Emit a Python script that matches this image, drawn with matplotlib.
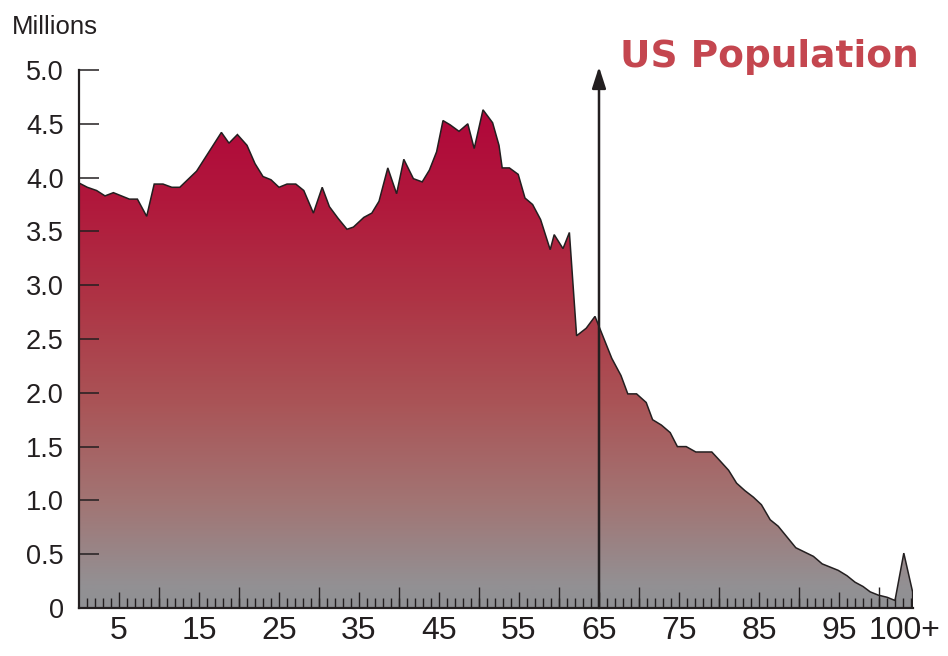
#!/usr/bin/env python3
"""US population by single year of age, gradient area chart."""

import matplotlib
matplotlib.use("Agg")

import matplotlib.pyplot as plt
import numpy as np
from matplotlib.colors import LinearSegmentedColormap, Normalize
from matplotlib.patches import FancyArrowPatch

# ages (points drift slightly from the ruler)
ages = [0, 1.04, 2.2, 3.25, 4.3, 5.3, 6.3, 7.3, 8.46, 9.4,
        10.5, 11.6, 12.6, 14.7, 17.8, 18.75, 19.8, 21.0, 22.0, 23.0,
        24.0, 25.0, 26.0, 27.1, 28.1, 29.3, 30.4, 31.3, 32.4, 33.5,
        34.3, 35.6, 36.6, 37.5, 38.6, 39.7, 40.6, 41.8, 42.9, 43.8,
        44.7, 45.5, 46.4, 47.5, 48.6, 49.4, 50.5, 51.7, 52.5, 52.9,
        53.8, 54.9, 55.75, 56.7, 57.7, 58.9, 59.4, 60.5, 61.3, 62.2,
        63.4, 64.5, 66.6, 67.75, 68.6, 69.7, 70.9, 71.7, 72.8, 73.9,
        74.8, 75.9, 77.1, 79.1, 80.1, 81.2, 82.2, 83.25, 84.3, 85.3,
        86.4, 87.4, 88.5, 89.6, 90.7, 91.8, 92.9, 93.9, 94.9, 96.0,
        97.0, 98.0, 98.9, 99.9, 101.0, 102.0, 103.1, 104.2]

population = [3.95, 3.91, 3.88, 3.83, 3.86, 3.83, 3.80, 3.80, 3.64, 3.94,
              3.94, 3.91, 3.91, 4.06, 4.42, 4.32, 4.40, 4.30, 4.13, 4.01,
              3.98, 3.91, 3.94, 3.94, 3.88, 3.67, 3.91, 3.73, 3.62, 3.52,
              3.54, 3.63, 3.67, 3.78, 4.09, 3.85, 4.17, 3.99, 3.96, 4.07,
              4.24, 4.53, 4.49, 4.43, 4.50, 4.27, 4.63, 4.51, 4.30, 4.09,
              4.09, 4.03, 3.81, 3.75, 3.61, 3.33, 3.47, 3.34, 3.49, 2.53,
              2.60, 2.71, 2.32, 2.16, 1.99, 1.99, 1.91, 1.75, 1.70, 1.63,
              1.50, 1.50, 1.45, 1.45, 1.37, 1.28, 1.16, 1.09, 1.03, 0.96,
              0.82, 0.76, 0.66, 0.56, 0.52, 0.48, 0.41, 0.38, 0.35, 0.30,
              0.24, 0.20, 0.15, 0.12, 0.10, 0.07, 0.51, 0.15]

y_ticks = [0, 0.5, 1.0, 1.5, 2.0, 2.5, 3.0, 3.5, 4.0, 4.5, 5.0]
y_labels = ["0", "0.5", "1.0", "1.5", "2.0", "2.5", "3.0", "3.5", "4.0", "4.5", "5.0"]
x_label_pos = [5, 15, 25, 35, 45, 55, 65, 75, 85, 95, 103.25]
x_labels = ["5", "15", "25", "35", "45", "55", "65", "75", "85", "95", "100+"]
retire_age = 65

INK = "#231f20"
TITLE_RED = "#c4464f"
FONT = "Liberation Sans"


def gradient_cmap():
    stops = [(0.0, "#8f9094"), (0.21, "#939093"), (1.0, "#a27473"),
             (1.93, "#aa5356"), (2.86, "#ae3445"), (3.79, "#b1183c"),
             (4.53, "#b0093a"), (5.0, "#b0093a")]
    return LinearSegmentedColormap.from_list(
        "pop", [(v / 5.0, c) for v, c in stops])


def main() -> int:
    fig = plt.figure(figsize=(9.48, 6.56), dpi=100)
    ax = fig.add_axes([79 / 948, 48 / 656, 834 / 948, 538 / 656])
    xmax = 104.25

    # gradient area clipped to the population outline
    poly = ax.fill_between(ages, population, 0, facecolor="none",
                           edgecolor="none", zorder=1)
    grad = np.linspace(0, 5, 600).reshape(-1, 1)
    img = ax.imshow(grad, extent=[0, xmax, 0, 5], origin="lower",
                    aspect="auto", cmap=gradient_cmap(),
                    norm=Normalize(0, 5), zorder=1, interpolation="bilinear")
    img.set_clip_path(poly.get_paths()[0], transform=ax.transData)

    ax.plot(ages + [ages[-1]], population + [0], color=INK, lw=1.1,
            zorder=3, solid_joinstyle="miter")

    ax.set_xlim(0, xmax)
    ax.set_ylim(0, 5)
    for side in ("top", "right"):
        ax.spines[side].set_visible(False)
    for side in ("left", "bottom"):
        ax.spines[side].set_color(INK)
        ax.spines[side].set_linewidth(1.6)
        ax.spines[side].set_zorder(4)

    ax.set_yticks(y_ticks)
    ax.set_yticklabels(y_labels, fontsize=19.5, family=FONT, color=INK)
    ax.tick_params(axis="y", direction="in", length=14.5, width=1.1,
                   color=INK, pad=11)

    ax.set_xticks(x_label_pos)
    ax.set_xticklabels(x_labels, fontsize=23, family=FONT, color=INK)
    ax.set_xticks(np.arange(1, 105), minor=True)
    ax.tick_params(axis="x", which="major", length=0, pad=6)
    ax.tick_params(axis="x", which="minor", direction="in", length=7.5,
                   width=1.0, color=INK)

    # longer ruler marks at fives and tens
    trans = ax.get_xaxis_transform()
    ax.vlines(np.arange(5, 100, 10), 0, 16 / 538, transform=trans,
              color=INK, lw=1.0, zorder=4)
    ax.vlines(np.arange(10, 101, 10), 0, 21 / 538, transform=trans,
              color=INK, lw=1.0, zorder=4)

    arrow = FancyArrowPatch((retire_age, 0), (retire_age, 5.03),
                            arrowstyle="-|>,head_length=13,head_width=4.2",
                            mutation_scale=1, color=INK, lw=1.8,
                            shrinkA=0, shrinkB=0, zorder=5, clip_on=False)
    ax.add_patch(arrow)

    fig.text(12 / 948, (656 - 34) / 656, "Millions", fontsize=18.5,
             family=FONT, color=INK, va="baseline", ha="left")
    fig.text(620 / 948, (656 - 67) / 656, "US Population", fontsize=27,
             family="DejaVu Sans", weight="bold", color=TITLE_RED,
             va="baseline", ha="left")

    fig.savefig("out.png", dpi=100)
    plt.close(fig)
    return 0


if __name__ == "__main__":
    raise SystemExit(main())
